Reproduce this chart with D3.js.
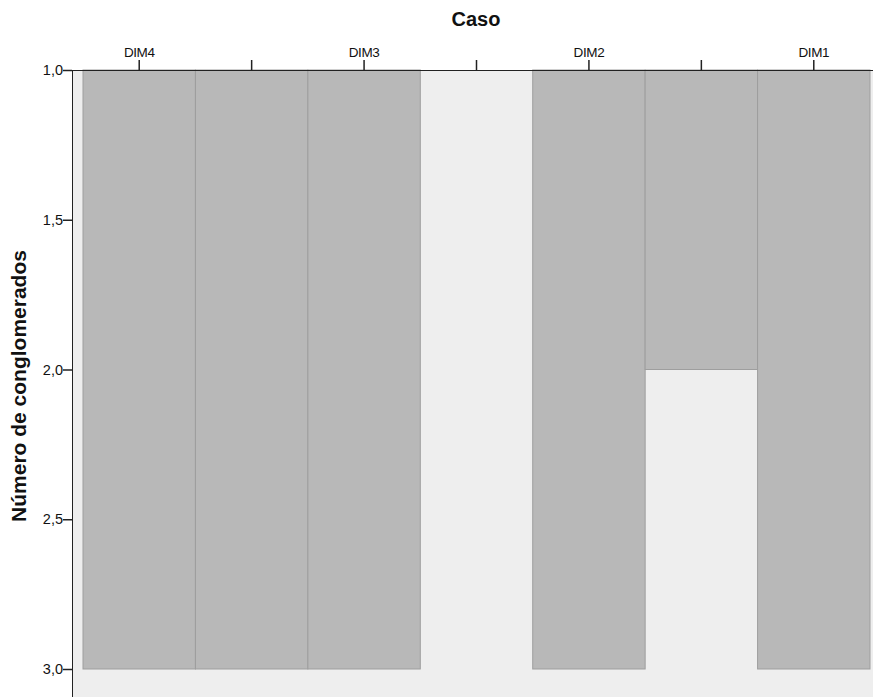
<!DOCTYPE html>
<html><head><meta charset="utf-8">
<script src="https://cdn.jsdelivr.net/npm/d3@7"></script>
<style>body{margin:0;background:#fff}svg{display:block}</style>
</head><body>
<svg id="c" width="873" height="697"></svg>
<script>
const columns = ["c1","c2","c3","c4","c5","c6","c7"];
const columnLabels = ["DIM4","","DIM3","","DIM2","","DIM1"];
const clusterDepth = [3, 3, 3, 1, 3, 2, 3];
const yTicks = [1.0, 1.5, 2.0, 2.5, 3.0];

const svg = d3.select("#c");
const font = "Arial, 'Liberation Sans', sans-serif";
const plotLeft = 72, plotTop = 70;

const x = d3.scaleBand().domain(columns).range([83, 870]).padding(0);
const y = d3.scaleLinear().domain([1, 3]).range([70, 669]);

svg.append("rect").attr("x", plotLeft).attr("y", plotTop).attr("width", 873 - plotLeft).attr("height", 697 - plotTop).attr("fill", "#eeeeee");

svg.append("g").selectAll("rect").data(columns.map((c, i) => ({c, v: clusterDepth[i]})).filter(d => d.v > 1))
  .join("rect")
  .attr("x", d => x(d.c)).attr("y", y(1))
  .attr("width", x.bandwidth()).attr("height", d => y(d.v) - y(1))
  .attr("fill", "#b8b8b8").attr("stroke", "#9e9e9e").attr("stroke-width", 1);

// top axis
const xa = svg.append("g").attr("transform", `translate(0,${plotTop})`)
  .call(d3.axisTop(x).tickSize(10).tickSizeOuter(0).tickFormat((d, i) => columnLabels[i]));
xa.select(".domain").attr("d", `M${plotLeft},0.5H873`).attr("stroke", "#222");
xa.selectAll(".tick line").attr("stroke", "#222").attr("stroke-width", 1.5);
xa.selectAll(".tick text").style("font-family", font).style("font-size", "13.5px").attr("fill", "#111").attr("y", -13).attr("dy", 0).style("letter-spacing", "-0.4px");

// left axis
const ya = svg.append("g").attr("transform", `translate(${plotLeft},0)`)
  .call(d3.axisLeft(y).tickValues(yTicks).tickSize(9).tickSizeOuter(0).tickFormat(d => d3.format(".1f")(d).replace(".", ",")));
ya.select(".domain").attr("d", `M0.5,${plotTop}V697`).attr("stroke", "#222");
ya.selectAll(".tick line").attr("stroke", "#222").attr("stroke-width", 1.5);
ya.selectAll(".tick text").style("font-family", font).style("font-size", "14.5px").attr("fill", "#111").attr("x", -9);

svg.append("text").attr("x", 476).attr("y", 26).attr("text-anchor", "middle")
  .style("font-family", font).attr("font-weight", "bold").style("font-size", "20px").attr("fill", "#111").text("Caso");
svg.append("text").attr("transform", "translate(26,386) rotate(-90)").attr("text-anchor", "middle")
  .style("font-family", font).attr("font-weight", "bold").style("font-size", "21px").attr("fill", "#111").text("Número de conglomerados");
</script>
</body></html>
